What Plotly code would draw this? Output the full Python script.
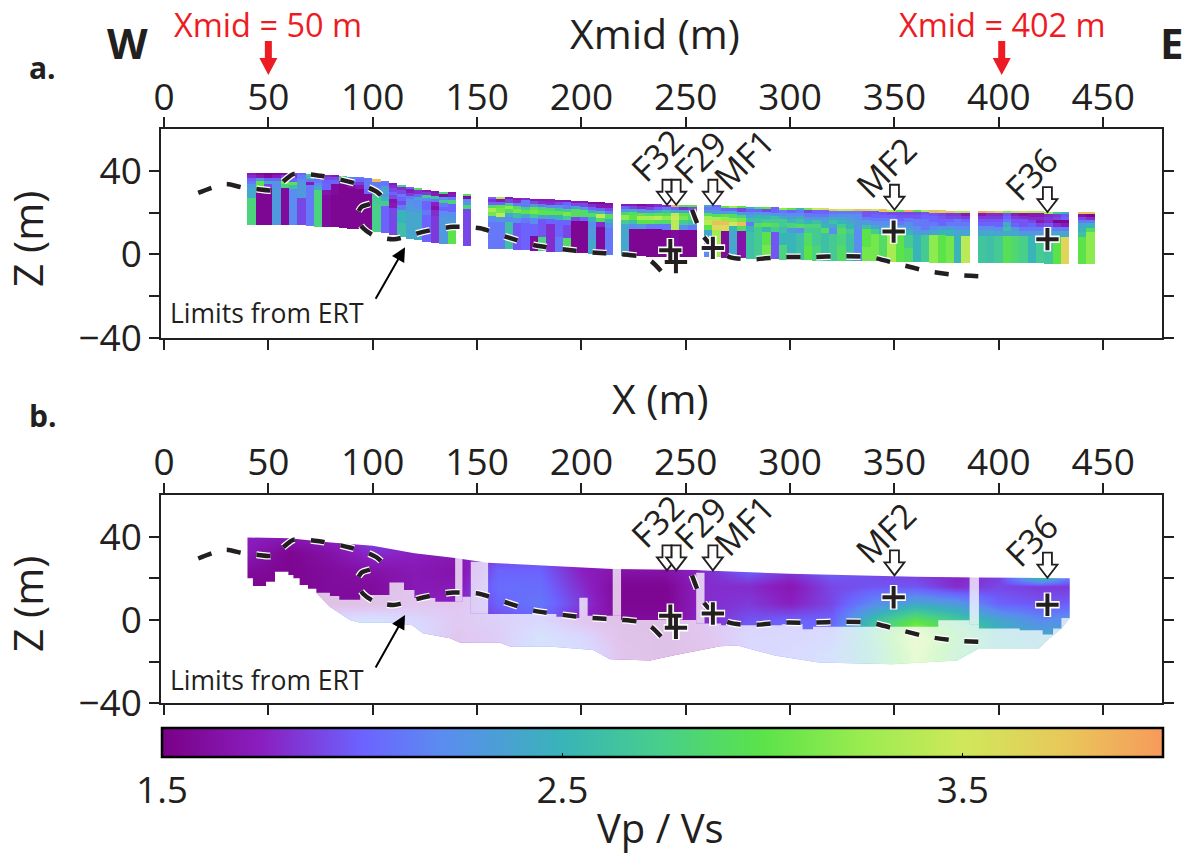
import numpy as np
import plotly.graph_objects as go

W, H = 1190, 856
INK = "#231f20"
FONT = "Open Sans"

# ---------- Panel a: column tomography ----------
layer_depth = [0, 1, 2.5, 4, 5.5, 7.5, 9.5, 12, 18, 25]
col_left = [40,44,48,52,56,60,64,68,72,76,80,84,88,92,96,100,104,108,112,116,120,124,128,132,136,
            143.3,
            155.3,159.3,163.3,167.3,171.3,175.3,179.3,183.3,187.3,191.3,195.3,199.3,203.3,207.3,211.3,
            219,223,227,231,235,239,243,247,251.3,
            258.8,262.8,266.8,270.8,274.8,278.8,282.8,286.8,290.8,294.8,298.8,302.8,306.8,310.8,314.8,318.8,
            322.8,326.8,330.8,334.8,338.8,342.8,346.8,350.8,354.8,358.8,362.8,366.8,370.8,374.8,378.8,382.2,
            390,394,398,402,406,410,414,418,422,426,430,
            438,442]
col_top = [39,39,39,39,39,38.8,38.7,38.5,38.2,38,37.8,37.5,37.2,36.9,36.5,35.8,35,34,33,32,31.5,30.8,30.4,30,29.7,
           28.9,
           27.6,27.4,27.2,27,26.8,26.6,26.4,26.2,26,25.8,25.5,25.3,25.1,24.8,24.5,
           24,24,23.9,23.8,23.8,23.7,23.7,23.6,23.6,
           23.6,23.4,23.2,23,22.9,22.8,22.6,22.5,22.4,22.3,22.2,22.1,22,21.9,21.9,21.8,
           21.8,21.7,21.7,21.6,21.5,21.4,21.3,21.2,21.1,21,21,20.9,20.9,20.8,20.8,20.8,
           20.8,20.8,20.7,20.7,20.6,20.6,20.5,20.5,20.4,20.4,20.4,
           20.2,20.2]
col_vpvs = [
 [1.7,1.8,2.0,2.1,2.3,2.4,2.4,2.8,2.8],
 [1.6,1.7,2.2,3.0,3.0,1.55,1.55,1.55,1.55],
 [1.55,1.6,2.0,2.4,1.9,1.55,1.55,1.55,1.55],
 [1.6,1.7,2.0,2.3,2.2,2.3,2.3,2.3,2.3],
 [1.6,1.9,2.7,3.1,2.8,1.6,1.6,1.6,1.6],
 [1.9,1.8,2.0,3.0,2.6,2.2,2.2,2.2,2.2],
 [2.0,2.1,2.2,2.3,2.3,2.3,2.3,1.9,1.9],
 [2.7,2.6,2.1,1.7,2.1,2.1,2.1,2.1,2.1],
 [1.9,2.0,2.1,2.2,2.4,2.8,2.8,2.8,2.8],
 [1.8,1.9,2.0,2.0,2.0,1.65,1.6,1.6,1.6],
 [1.7,1.9,2.0,1.6,1.6,1.6,1.55,1.55,1.55],
 [2.7,2.9,1.7,1.55,1.55,1.55,1.55,1.55,1.55],
 [2.1,2.2,1.9,1.65,1.55,1.55,1.55,1.55,1.55],
 [2.1,2.0,1.85,1.7,1.55,1.55,1.55,1.55,1.55],
 [2.1,2.1,2.1,2.1,2.0,1.55,1.55,1.55,1.55],
 [3.8,2.1,2.1,2.2,2.3,2.7,2.7,2.75,2.75],
 [2.1,2.1,2.3,2.4,2.3,2.5,2.7,2.0,2.0],
 [1.7,1.8,1.9,2.0,1.9,1.65,1.7,1.9,1.9],
 [2.7,1.8,1.9,2.1,2.0,1.9,2.1,2.5,2.6],
 [2.0,1.7,1.85,2.1,2.2,2.3,2.3,2.4,2.4],
 [2.9,1.8,2.0,2.4,2.2,2.2,2.3,2.4,2.4],
 [1.7,1.85,2.7,2.2,2.0,2.0,2.1,2.0,2.0],
 [1.65,1.7,2.6,2.1,1.75,1.65,1.8,1.85,1.85],
 [2.8,1.6,2.2,2.7,2.1,2.0,2.2,2.3,2.3],
 [1.65,1.7,2.1,2.8,2.0,2.0,2.2,2.3,3.0],
 [2.9,1.6,2.2,2.3,2.8,1.9,1.9,1.9,1.9],
 [2.0,1.8,2.0,2.9,3.3,3.1,2.2,2.1,2.1],
 [3.3,1.7,2.0,3.0,3.1,3.4,2.3,2.1,2.1],
 [1.7,1.9,2.7,3.2,2.9,2.4,2.2,2.6,2.6],
 [1.7,1.8,2.1,2.9,3.1,2.6,2.2,1.95,1.95],
 [1.8,2.1,2.1,2.7,3.0,2.4,2.1,2.0,2.0],
 [1.7,1.9,2.3,3.0,3.1,2.7,2.2,2.0,1.6],
 [1.7,1.8,2.1,2.8,3.0,2.4,1.95,1.95,2.8],
 [1.75,1.8,2.2,2.8,3.0,2.4,2.0,1.8,1.8],
 [1.7,1.9,2.2,2.6,3.0,2.5,2.0,2.0,2.1],
 [1.7,2.0,2.1,2.7,3.1,2.7,2.0,1.9,2.9],
 [1.7,1.9,2.3,2.9,2.9,1.9,1.55,1.55,1.55],
 [1.7,1.9,2.3,2.9,2.9,2.0,1.55,1.55,1.55],
 [1.6,1.8,2.0,2.4,2.9,2.5,2.2,2.3,2.4],
 [1.6,1.7,2.0,2.6,3.4,2.9,1.8,1.6,1.6],
 [1.65,1.7,1.9,2.1,2.9,2.5,2.2,2.1,2.1],
 [1.7,2.0,2.3,2.8,3.2,2.7,2.4,2.4,2.4],
 [1.7,1.9,2.4,2.9,3.0,2.6,2.2,1.55,1.55],
 [1.6,1.8,2.2,3.0,3.3,3.0,2.3,1.55,1.55],
 [1.7,1.9,2.3,2.9,3.3,3.0,2.1,1.55,1.55],
 [1.8,2.0,2.4,3.0,3.4,2.9,2.1,1.55,1.55],
 [1.8,2.1,2.6,2.9,3.2,2.9,2.1,1.55,1.55],
 [3.9,2.0,2.4,3.4,3.5,3.4,3.4,1.6,1.6],
 [2.9,1.8,2.4,3.0,3.1,2.7,2.2,1.55,1.55],
 [3.0,1.9,2.2,2.9,2.9,2.6,2.1,1.55,1.55],
 [2.4,2.1,2.3,2.9,3.3,3.4,3.0,2.4,2.2],
 [2.0,2.1,2.3,2.9,3.3,3.8,3.6,3.3,3.3],
 [3.0,2.0,2.3,3.0,3.2,3.8,3.6,1.6,1.6],
 [3.3,2.0,2.4,2.9,3.2,3.5,2.5,2.4,2.4],
 [3.0,1.9,2.3,2.8,3.1,3.8,2.9,1.65,1.65],
 [2.4,2.0,2.2,2.4,2.6,2.1,2.5,2.6,2.6],
 [2.8,2.0,2.3,2.5,2.6,2.9,2.7,2.7,2.7],
 [3.0,1.9,2.2,2.5,2.7,3.0,2.5,3.0,3.1],
 [2.0,2.0,2.3,2.6,2.7,2.9,2.7,1.95,1.95],
 [3.2,2.1,2.2,2.4,2.7,2.7,2.6,2.5,2.8],
 [3.0,2.0,2.2,2.3,2.5,2.8,2.3,2.5,2.5],
 [2.5,2.1,2.2,2.4,2.6,2.9,2.2,2.6,2.6],
 [3.1,1.9,2.1,2.3,2.5,2.8,2.7,2.9,3.0],
 [3.5,2.0,2.1,2.3,2.6,2.8,2.7,2.7,2.8],
 [3.6,2.0,2.1,2.3,2.4,2.5,2.9,2.6,2.6],
 [3.7,2.1,2.2,2.4,2.6,2.4,2.2,2.7,2.7],
 [3.5,2.1,2.2,2.4,2.5,2.7,2.9,2.8,2.9],
 [3.6,2.1,2.2,2.3,2.4,2.5,2.7,2.6,2.6],
 [3.8,2.1,2.2,2.2,2.3,2.3,2.2,2.2,2.2],
 [3.7,1.95,1.95,2.1,2.3,2.6,3.0,3.0,3.1],
 [3.5,1.95,2.0,2.1,2.2,2.4,2.7,3.1,3.1],
 [3.8,1.95,2.0,2.1,2.2,2.3,2.5,2.9,2.9],
 [3.4,1.9,2.0,2.1,2.2,2.4,2.6,3.3,3.3],
 [3.0,1.9,1.95,2.0,2.1,2.3,2.6,3.0,3.0],
 [3.9,1.9,1.95,2.1,2.2,2.3,2.5,2.7,2.9],
 [3.0,1.9,1.95,2.1,2.1,2.2,2.3,2.5,2.5],
 [3.4,1.95,2.0,2.1,2.1,2.1,2.3,2.7,2.7],
 [3.8,1.95,2.0,2.0,2.1,2.2,2.4,3.2,3.2],
 [3.7,1.9,1.95,2.0,2.0,2.3,2.5,3.0,3.0],
 [3.8,1.85,1.9,2.0,2.1,2.3,2.5,3.1,3.1],
 [3.4,1.85,1.9,2.1,2.1,2.2,2.4,2.5,2.5],
 [3.4,1.7,1.85,2.0,2.1,2.2,2.4,3.4,3.4],
 [3.9,1.7,1.85,1.95,2.0,2.2,2.4,2.65,2.65],
 [3.8,1.8,1.85,1.95,2.0,2.2,2.4,2.6,2.6],
 [3.6,1.8,1.85,1.95,2.0,2.2,2.4,2.7,2.7],
 [3.2,1.95,2.0,2.1,2.4,2.6,2.4,2.95,2.95],
 [3.4,1.75,1.85,1.95,2.0,2.3,2.4,2.85,2.85],
 [3.5,1.65,1.8,1.95,1.95,2.1,2.3,2.75,2.75],
 [3.4,1.7,1.8,1.9,2.0,2.1,2.3,2.5,2.5],
 [3.4,1.7,1.8,1.7,1.9,2.1,2.3,2.7,2.7],
 [3.3,1.8,1.85,1.8,1.95,2.2,2.3,2.65,2.65],
 [2.7,1.85,1.9,1.55,1.8,2.1,2.4,3.0,3.0],
 [2.5,1.95,2.0,1.55,1.7,2.1,2.4,3.65,3.65],
 [3.8,1.65,1.9,2.1,2.4,2.5,2.6,3.0,3.0],
 [3.8,1.55,1.8,2.1,2.5,2.9,3.2,3.2,3.2],
]

# ---------- Panel b: smooth model ----------
grid_x = [40,60,80,100,120,140,160,180,200,220,240,260,280,300,320,340,360,380,400,420,440]
grid_z = [40,32,24,16,8,0,-8,-16,-24]
grid_vpvs = [
 [1.75,1.7,1.75,1.9,1.8,1.75,1.7,1.7,1.7,1.7,1.7,1.8,2.3,2.4,2.4,2.3,2.5,2.2,2.5,3.1,3.0],
 [1.7,1.55,1.65,1.8,1.75,1.7,1.85,1.9,1.7,1.7,1.7,1.8,1.9,2.1,2.2,2.1,2.1,2.0,2.0,2.8,2.6],
 [1.6,1.55,1.6,1.65,1.7,1.65,2.0,2.0,1.75,1.65,1.65,1.8,2.0,1.85,2.0,1.9,1.85,1.75,1.85,3.2,1.9],
 [1.55,1.55,1.6,1.6,1.7,1.7,2.05,2.05,1.8,1.55,1.55,1.8,1.8,1.7,1.9,1.95,1.95,1.8,1.9,1.85,1.85],
 [1.6,1.6,1.6,1.6,1.75,1.75,2.0,2.1,1.85,1.55,1.55,1.8,1.85,1.75,1.9,2.2,2.4,2.3,2.0,1.95,2.0],
 [1.8,1.9,2.1,2.2,2.0,1.8,1.9,2.0,1.75,1.6,1.6,1.8,1.95,2.0,2.0,2.6,3.0,2.7,2.4,2.2,2.3],
 [2.2,2.2,2.3,2.35,2.1,1.75,1.85,2.2,2.0,1.65,1.6,1.75,2.0,2.0,2.1,2.7,3.4,2.9,2.5,2.4,2.4],
 [2.2,2.2,2.3,2.3,2.0,1.8,1.9,2.2,2.1,1.7,1.6,1.7,2.0,2.05,2.2,2.6,3.3,2.8,2.5,2.5,2.4],
 [2.2,2.2,2.3,2.3,2.0,1.8,1.9,2.2,2.1,1.7,1.6,1.7,2.0,2.05,2.2,2.6,3.2,2.8,2.5,2.5,2.4],
]
surface_x = [40,60,80,100,120,139.5,155,215,255,259,300,360,390,434]
surface_z = [39.6,39.2,37.2,35.6,32,29.7,27.5,24.5,24,23.8,22.2,20.8,20.4,20]
solid_edge_x = [40,42.6,48.9,53.2,59.6,62,65,69,73,79.5,84,94,108,115,120,130,139.5,143,147,155.3,188,195,199,203,215,219,255,259,263,267,296,306,311,332,371,386,390.5,399,410,421,426,430,434]
solid_edge_z = [20,16.3,18.4,23.2,21.6,20,16.8,15,13.1,11.5,9.7,12,18,14.4,10.5,8.8,8.8,11.2,3,2.9,1.6,1,10.7,2,2,0,-1.7,-1.7,-1.7,-2.5,-2,-4.5,-3.3,-3.3,-0.1,-2,-4.1,-4.1,-4.9,-7,-4.1,1,1]
faint_edge_x = [40,42.6,42.6,48.9,48.9,53.2,53.2,59.6,59.6,62,62,65,65,69,69,73,73,79.5,84,89,94,110,119,124,137,142,161,166,186,205.7,213.7,233,243.9,266.6,274.8,292.6,313.7,349,380,390,419,424,430,434]
faint_edge_z = [20,20,16.3,16.3,18.4,18.4,23.2,23.2,21.6,21.6,20,20,16.8,16.8,15,15,13.1,6.4,3.4,0,-1.3,-1.3,-2.5,-6.4,-8.8,-10.9,-10.9,-12.8,-12.8,-14.4,-18.9,-19.5,-17.1,-12.6,-12.2,-17.1,-20.4,-21.2,-19.5,-13.9,-13.9,-9,-4.1,0.9]
band_left = [139.5,147,215,255,386]
band_right = [143,155.3,219,259,390.5]
band_top = [29.7,28,24.5,22.7,21.5]
band_bottom = [8.8,3,2,-1.7,-2]

# ---------- Limits from ERT ----------
ert1_x = [16.4,25,30,38,44.5,51.6,56.4,62,75,89,97,102,104.3,102,94.7,92.3,95.5,101,110,124,138.6,151.5,164,177,190.5,204,218.5,229.5,233.7,240]
ert1_z = [29.5,32.7,33.7,32,31.3,30.8,34.3,38.5,37.7,34.8,32.4,30,27.6,25.2,22.8,18,12.5,8.8,7.2,10.8,13.2,12.5,8.4,4.5,2.5,1,0.1,-1.2,-3.5,-10]
ert2_x = [253,258,263,271,281.6,296,310.6,325,338,352.6,365.6,380.3,393]
ert2_z = [21.4,9.3,3.6,-1.3,-2.4,-1.3,-1.3,-0.9,-1.3,-4.8,-8,-10,-10.6]

# ---------- Faults ----------
fault_names = ["F32","F29","MF1","MF2","F36"]
arrow_x = [241,245.4,263,350,423.3]
arrow_z = [23.8,23.8,23.8,21.4,20.3]
label_x = [236.2,256.8,277.9,346,415.4]
label_z = [47.5,46.5,45.7,42,38.5]
cross_x = [242.6,245.3,263,349.6,423.3]
cross_z = [2,-3.7,3.1,10.9,7.3]

# ---------- Colours ----------
cmin, cmax = 1.5, 4.0
stops = [(1.5,"#7a0086"),(1.75,"#8a1fc0"),(2.0,"#6c63ff"),(2.2,"#5b8cf0"),(2.5,"#39b4b8"),
         (2.75,"#48cf8a"),(3.0,"#5be349"),(3.25,"#9aec50"),(3.5,"#cfe85a"),(3.75,"#e8c85a"),(4.0,"#f79a5b")]
colorscale = [[(v-cmin)/(cmax-cmin),c] for v,c in stops]

fig = go.Figure()

# panel a
vals = np.array(col_vpvs)
left = np.array(col_left, dtype=float)
top = np.array(col_top, dtype=float)
for i in range(len(layer_depth)-1):
    fig.add_trace(go.Bar(x=left+2, y=[layer_depth[i+1]-layer_depth[i]]*len(left),
                         base=top-layer_depth[i+1], width=4,
                         marker=dict(color=vals[:,i], coloraxis="coloraxis", line_width=0),
                         xaxis="x", yaxis="y", showlegend=False, hoverinfo="skip"))

# panel b
fig.add_trace(go.Heatmap(x=grid_x, y=grid_z, z=grid_vpvs, zsmooth="best", coloraxis="coloraxis",
                         xaxis="x2", yaxis="y2", hoverinfo="skip", showscale=False))
def mask(xs, zs, opacity=1.0):
    fig.add_trace(go.Scatter(x=xs, y=zs, mode="none", fill="toself",
                             fillcolor=f"rgba(255,255,255,{opacity})",
                             xaxis="x2", yaxis="y2", showlegend=False, hoverinfo="skip"))
solid_hv_x, solid_hv_z = [], []
for i,(a,b) in enumerate(zip(solid_edge_x, solid_edge_z)):
    if i:
        solid_hv_x.append(a); solid_hv_z.append(solid_edge_z[i-1])
    solid_hv_x.append(a); solid_hv_z.append(b)
mask(solid_hv_x + faint_edge_x[::-1], solid_hv_z + faint_edge_z[::-1], 0.75)
bx, bz = [], []
for l,r,t,b in zip(band_left, band_right, band_top, band_bottom):
    bx += [l,r,r,l,l,None]; bz += [t,t,b,b,t,None]
mask(bx, bz, 0.75)
mask([29]+surface_x+[434,452,452,29], [39.6]+surface_z+[20,20,50,50])
mask([29,40,40,29], [50,50,-32,-32])
mask([434,452,452,434], [50,50,-32,-32])
mask(faint_edge_x+[452,452,29,29], faint_edge_z+[0.9,-32,-32,20])

for xa, ya in (("x","y"),("x2","y2")):
    for xs,zs in ((ert1_x,ert1_z),(ert2_x,ert2_z)):
        fig.add_trace(go.Scatter(x=xs,y=zs,mode="lines",xaxis=xa,yaxis=ya,showlegend=False,hoverinfo="skip",
                                 line=dict(color="white",width=7,dash="14px,16px",shape="spline",smoothing=0.7)))
        fig.add_trace(go.Scatter(x=xs,y=zs,mode="lines",xaxis=xa,yaxis=ya,showlegend=False,hoverinfo="skip",
                                 line=dict(color=INK,width=4.5,dash="14px,16px",shape="spline",smoothing=0.7)))
    fig.add_trace(go.Scatter(x=cross_x,y=cross_z,mode="markers",xaxis=xa,yaxis=ya,showlegend=False,hoverinfo="skip",
                             marker=dict(symbol="cross-thin",size=17.5,color="white",line=dict(color="white",width=7.5))))
    fig.add_trace(go.Scatter(x=cross_x,y=cross_z,mode="markers",xaxis=xa,yaxis=ya,showlegend=False,hoverinfo="skip",
                             marker=dict(symbol="cross-thin",size=16,color=INK,line=dict(color=INK,width=4))))

L, R = 161.3, 1162.0
xrange = [(L-164)/2.087, (R-164)/2.087]
def px_dom(top_px, bot_px):
    return [1-bot_px/H, 1-top_px/H]

def axx(dom_anchor):
    return dict(domain=[L/W,R/W], range=xrange, anchor=dom_anchor, side="top", tickmode="array",
                tickvals=list(range(0,451,50)), ticks="outside", ticklen=10, tickwidth=1.6, tickcolor=INK,
                showline=True, linewidth=2, linecolor=INK, mirror="ticks", showgrid=False, zeroline=False,
                automargin=False, ticklabelstandoff=-7, tickfont=dict(family=FONT,size=37,color=INK))
def axy(dom, anchor):
    return dict(domain=dom, range=[-40,60], anchor=anchor, tickmode="array",
                tickvals=[-40,-20,0,20,40], ticktext=["\u221240","","0","","40"],
                ticks="outside", ticklen=10, tickwidth=1.6, tickcolor=INK,
                showline=True, linewidth=2, linecolor=INK, mirror="ticks", showgrid=False, zeroline=False,
                automargin=False, tickfont=dict(family=FONT,size=37,color=INK))

anns = []
def text_px(txt, px, py, size, color=INK, bold=False, angle=0):
    anns.append(dict(text=f"<b>{txt}</b>" if bold else txt, xref="paper", yref="paper", x=px/W, y=1-py/H,
                     xanchor="center", yanchor="middle", showarrow=False, textangle=angle,
                     font=dict(family=FONT,size=size,color=color)))
text_px("Xmid (m)",655,33,41)
text_px("X (m)",660,398,41)
text_px("Z (m)",27,239,41,angle=-90)
text_px("Z (m)",27,604,41,angle=-90)
text_px("W",127,42,42,bold=True)
text_px("E",1172,42,42,bold=True)
text_px("a.",42,67,30,bold=True)
text_px("b.",43,415,30,bold=True)
text_px("Xmid = 50 m",268,25,32.5,color="#ed1c24")
text_px("Xmid = 402 m",1002,25,32.5,color="#ed1c24")
text_px("Limits from ERT",267,312.7,26.5)
text_px("Limits from ERT",267,680,26.5)
text_px("Vp / Vs",660,827,40)

for xa, ya, tz, az in (("x","y",3.4,-22),("x2","y2",2.4,-23.5)):
    anns.append(dict(x=115.5,y=tz,ax=101,ay=az,xref=xa,yref=ya,axref=xa,ayref=ya,text="",showarrow=True,
                     arrowhead=2,arrowsize=1.4,arrowwidth=2,arrowcolor="#000000"))
    for n,lx,lz in zip(fault_names,label_x,label_z):
        anns.append(dict(x=lx,y=lz,xref=xa,yref=ya,text=n,showarrow=False,textangle=-45,
                         xanchor="center",yanchor="middle",font=dict(family=FONT,size=34,color=INK)))

shapes = []
open_path = "M 0 0 L -10 13 L -4.5 13 L -4.5 25 L 4.5 25 L 4.5 13 L 10 13 Z"
for xa, ya in (("x","y"),("x2","y2")):
    for ax_,az_ in zip(arrow_x,arrow_z):
        shapes.append(dict(type="path",path=open_path,xref=xa,yref=ya,xsizemode="pixel",ysizemode="pixel",
                           xanchor=ax_,yanchor=az_,fillcolor="white",line=dict(color=INK,width=1.8),layer="above"))
red_path = "M 0 0 L -9 17 L -3.5 17 L -3.5 34 L 3.5 34 L 3.5 17 L 9 17 Z"
for v in (50,401.4):
    shapes.append(dict(type="path",path=red_path,xref="x",yref="paper",xsizemode="pixel",ysizemode="pixel",
                       xanchor=v,yanchor=1-75/H,fillcolor="#ed1c24",line=dict(width=0),layer="above"))
for v in (2.5,3.5):
    px = 162+(v-1.5)*400
    shapes.append(dict(type="line",xref="paper",yref="paper",x0=px/W,x1=px/W,y0=1-729/H,y1=1-734/H,
                       line=dict(color="#000",width=1.2)))

fig.update_layout(
    width=W,height=H,margin=dict(l=0,r=0,t=0,b=0,autoexpand=False),paper_bgcolor="white",plot_bgcolor="white",
    barmode="overlay",bargap=0,showlegend=False,font=dict(family=FONT,color=INK),
    xaxis=axx("y"),yaxis=axy(px_dom(129.3,337.7),"x"),
    xaxis2=axx("y2"),yaxis2=axy(px_dom(495,703.3),"x2"),
    annotations=anns,shapes=shapes,
    coloraxis=dict(cmin=cmin,cmax=cmax,colorscale=colorscale,
        colorbar=dict(orientation="h",x=162/W,xanchor="left",y=1-728/H,yanchor="top",
                      len=1001/W,lenmode="fraction",thickness=29,thicknessmode="pixels",
                      xpad=0,ypad=0,outlinewidth=2.5,outlinecolor="#000",
                      tickvals=[1.5,2.5,3.5],ticktext=["1.5","2.5","3.5"],ticks="inside",ticklen=5,tickwidth=1.2,tickcolor="#000",
                      tickfont=dict(family=FONT,size=37,color=INK))),
)
fig.write_html("out.html",config={"displayModeBar":False},post_script="document.body.style.margin='0';")
